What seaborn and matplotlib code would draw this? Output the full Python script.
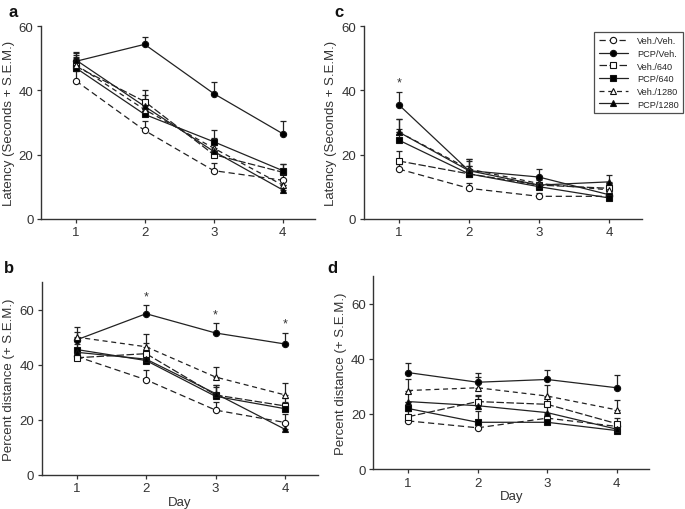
import matplotlib
matplotlib.use("Agg")
import matplotlib.pyplot as plt
from matplotlib.font_manager import FontProperties
import numpy as np
import pandas as pd
import seaborn as sns

DAYS = [1, 2, 3, 4]
GROUPS = ["Veh./Veh.", "PCP/Veh.", "Veh./640", "PCP/640", "Veh./1280", "PCP/1280"]

# panel a: latency, acquisition
LAT_A = {
    "Veh./Veh.": [43, 27.5, 15, 12],
    "PCP/Veh.": [49, 54.3, 39, 26.5],
    "Veh./640": [47.5, 36.5, 20, 14.5],
    "PCP/640": [47, 32.5, 24, 15],
    "Veh./1280": [48, 34, 22, 10.5],
    "PCP/1280": [49.5, 35, 21, 9],
}
SEM_A = {
    "Veh./Veh.": [3, 3, 2.5, 2],
    "PCP/Veh.": [2.5, 2.3, 3.5, 3.8],
    "Veh./640": [3, 3.5, 3, 2.5],
    "PCP/640": [3, 3.5, 3.5, 2],
    "Veh./1280": [3, 3, 3, 2],
    "PCP/1280": [2.5, 3.5, 3, 1.5],
}

# panel c: latency, reversal
LAT_C = {
    "Veh./Veh.": [15.5, 9.5, 7, 7],
    "PCP/Veh.": [35.5, 15, 13, 7.5],
    "Veh./640": [18, 14, 10.5, 9.5],
    "PCP/640": [24.5, 14, 10, 6.5],
    "Veh./1280": [27, 15.5, 11, 9],
    "PCP/1280": [27, 15, 10.5, 11.5],
}
SEM_C = {
    "Veh./Veh.": [1.5, 1.5, 1, 1],
    "PCP/Veh.": [4, 3, 2.5, 2],
    "Veh./640": [3, 2.5, 2, 1.5],
    "PCP/640": [3.5, 2.5, 2, 1.5],
    "Veh./1280": [4, 3, 2, 2],
    "PCP/1280": [4, 3.5, 2.5, 2],
}

# panel b: percent distance, acquisition
DIST_B = {
    "Veh./Veh.": [43, 34.5, 23.5, 19],
    "PCP/Veh.": [49, 58.5, 51.5, 47.5],
    "Veh./640": [42.5, 44, 29, 25],
    "PCP/640": [45.5, 41.5, 28.5, 24],
    "Veh./1280": [50, 46.5, 35.5, 29],
    "PCP/1280": [44.5, 42, 29.5, 16.5],
}
SEM_B = {
    "Veh./Veh.": [2.5, 3.5, 3, 3],
    "PCP/Veh.": [3, 3, 3.5, 4],
    "Veh./640": [3, 4, 3.5, 3],
    "PCP/640": [3, 3.5, 3.5, 2.5],
    "Veh./1280": [3.5, 4.5, 3.5, 4.5],
    "PCP/1280": [3, 3.5, 3, 2],
}

# panel d: percent distance, reversal
DIST_D = {
    "Veh./Veh.": [17.5, 15, 18.5, 15.5],
    "PCP/Veh.": [35, 31.5, 32.5, 29.5],
    "Veh./640": [19, 24.5, 23.5, 16.5],
    "PCP/640": [22, 17, 17, 14],
    "Veh./1280": [28.5, 29.5, 26.5, 21.5],
    "PCP/1280": [24.5, 23, 20.5, 14.5],
}
SEM_D = {
    "Veh./Veh.": [1.5, 1.5, 1.5, 1.5],
    "PCP/Veh.": [3.5, 3.5, 3.5, 4.5],
    "Veh./640": [2, 2.5, 2.5, 2],
    "PCP/640": [2.5, 4, 2, 1.5],
    "Veh./1280": [4, 4, 4, 3.5],
    "PCP/1280": [3, 3.5, 3, 2],
}

STARS_B = [2, 3, 4]
STARS_C = [1]

STYLE = {
    "Veh./Veh.": dict(marker="o", mfc="white", ls=(0, (5, 3))),
    "PCP/Veh.": dict(marker="o", mfc="black", ls="-"),
    "Veh./640": dict(marker="s", mfc="white", ls=(0, (6, 2))),
    "PCP/640": dict(marker="s", mfc="black", ls="-"),
    "Veh./1280": dict(marker="^", mfc="white", ls=(0, (4, 3))),
    "PCP/1280": dict(marker="^", mfc="black", ls="-"),
}


def to_long(values: dict, sem: dict) -> pd.DataFrame:
    rows = []
    for group in GROUPS:
        for day, val, err in zip(DAYS, values[group], sem[group]):
            rows.append({"group": group, "day": day, "value": val, "sem": err})
    return pd.DataFrame(rows)


def draw_panel(ax, df: pd.DataFrame, ylim, yticks, ylabel, xlabel, stars=None) -> None:
    for group in GROUPS:
        sub = df[df["group"] == group]
        st = STYLE[group]
        ax.errorbar(
            sub["day"], sub["value"],
            yerr=[np.zeros(len(sub)), sub["sem"]],
            fmt="none", ecolor="#222222", elinewidth=0.9, capsize=2.5, capthick=0.9, zorder=2,
        )
        sns.lineplot(
            data=sub, x="day", y="value", ax=ax, color="#222222",
            marker=st["marker"], markerfacecolor=st["mfc"], markeredgecolor="#111111",
            markersize=4.5, markeredgewidth=0.8, linestyle=st["ls"], linewidth=0.9,
            label=group, legend=False, zorder=3,
        )
    if stars:
        top = df.assign(t=df["value"] + df["sem"]).groupby("day")["t"].max()
        for d in stars:
            ax.text(d, top[d] + 1.2, "*", ha="center", va="bottom", fontsize=9, color="#333333")
    ax.set_xlim(0.5, 4.47)
    ax.set_ylim(*ylim)
    ax.set_xticks(DAYS)
    ax.set_yticks(yticks)
    ax.set_ylabel(ylabel, fontsize=9.5, color="#333333", labelpad=3)
    ax.set_xlabel(xlabel, fontsize=9.5, color="#333333", labelpad=1)
    ax.tick_params(labelsize=9.5, colors="#333333", length=3, width=0.9, pad=2.5)
    for sp in ["left", "bottom"]:
        ax.spines[sp].set_color("#333333")
        ax.spines[sp].set_linewidth(1.0)
    sns.despine(ax=ax)


def main() -> None:
    sns.set_style("ticks")
    plt.rcParams["font.family"] = ["Liberation Sans", "DejaVu Sans"]

    fig = plt.figure(figsize=(6.85, 5.10), dpi=100)
    ax_a = fig.add_axes([0.060, 0.569, 0.400, 0.378])
    ax_c = fig.add_axes([0.531, 0.569, 0.406, 0.378])
    ax_b = fig.add_axes([0.061, 0.067, 0.403, 0.378])
    ax_d = fig.add_axes([0.545, 0.078, 0.403, 0.379])

    lat_label = "Latency (Seconds + S.E.M.)"
    dist_label = "Percent distance (+ S.E.M.)"
    draw_panel(ax_a, to_long(LAT_A, SEM_A), (0, 60), [0, 20, 40, 60], lat_label, "")
    draw_panel(ax_c, to_long(LAT_C, SEM_C), (0, 60), [0, 20, 40, 60], lat_label, "", STARS_C)
    draw_panel(ax_b, to_long(DIST_B, SEM_B), (0, 70), [0, 20, 40, 60], dist_label, "Day", STARS_B)
    draw_panel(ax_d, to_long(DIST_D, SEM_D), (0, 70), [0, 20, 40, 60], dist_label, "Day")

    leg_font = FontProperties(family=["Liberation Sans Narrow", "Liberation Sans"], size=6.6)
    leg = ax_c.legend(
        loc="upper right", bbox_to_anchor=(0.997, 0.935), bbox_transform=fig.transFigure,
        prop=leg_font, frameon=True, fancybox=False,
        handlelength=3.2, handletextpad=1.0, borderpad=0.45, labelspacing=0.4, borderaxespad=0,
    )
    leg.get_frame().set_edgecolor("#222222")
    leg.get_frame().set_linewidth(0.9)

    for letter, x, y in [("a", 0.012, 0.975), ("c", 0.488, 0.975), ("b", 0.006, 0.474), ("d", 0.478, 0.474)]:
        fig.text(x, y, letter, fontsize=12, fontweight="bold", ha="left", va="center", color="#111111")

    fig.savefig("out.png", dpi=100)
    plt.close(fig)


if __name__ == "__main__":
    main()
